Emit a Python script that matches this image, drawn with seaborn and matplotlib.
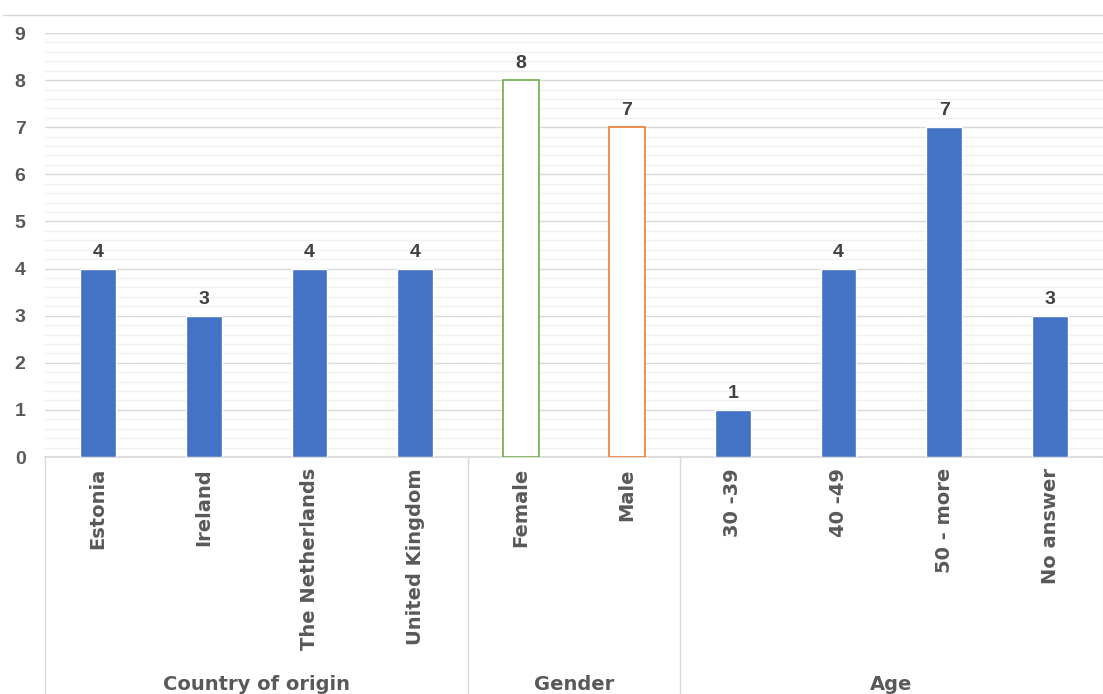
import numpy as np
import pandas as pd
import matplotlib
matplotlib.use("Agg")
import matplotlib.pyplot as plt
from matplotlib.ticker import MultipleLocator
from matplotlib.lines import Line2D
import seaborn as sns

# Data
categories = ["Estonia", "Ireland", "The Netherlands", "United Kingdom",
              "Female", "Male",
              "30 -39", "40 -49", "50 - more", "No answer"]
counts = [4, 3, 4, 4, 8, 7, 1, 4, 7, 3]
groups = ["Country of origin"] * 4 + ["Gender"] * 2 + ["Age"] * 4
group_names = ["Country of origin", "Gender", "Age"]

blue = "#4472C4"
txt = "#595959"
wide = ["DejaVu Sans"]  # wider face, closer to the spaced-out labels

sns.set_theme(style="white")
plt.rcParams["font.family"] = ["Liberation Sans", "DejaVu Sans"]

df = pd.DataFrame({"category": categories, "count": counts, "group": groups})

fig = plt.figure(figsize=(11.03, 6.94), dpi=100)
ax = fig.add_axes([45 / 1103, 1 - 457 / 694, 1 - 45 / 1103, 424 / 694])

sns.barplot(data=df, x="category", y="count", order=categories, color=blue,
            width=0.34, saturation=1, ax=ax, zorder=3)

# Gender bars are drawn as outlines only
outline = {"Female": "#70AD47", "Male": "#ED7D31"}
for patch, cat in zip(ax.patches, categories):
    if cat in outline:
        patch.set_facecolor("white")
        patch.set_edgecolor(outline[cat])
        patch.set_linewidth(1.2)

# value labels
for i, v in enumerate(counts):
    ax.text(i, v + 0.17, str(v), ha="center", va="bottom", fontsize=14,
            fontweight="bold", color="#404040")

ax.set_ylim(0, 9)
ax.set_xlim(-0.5, 9.5)
ax.yaxis.set_major_locator(MultipleLocator(1))
ax.yaxis.set_minor_locator(MultipleLocator(0.2))
ax.grid(which="major", axis="y", color="#D9D9D9", linewidth=1.0, zorder=0)
ax.grid(which="minor", axis="y", color="#F0F0F0", linewidth=1.0, zorder=0)
ax.set_axisbelow(True)
for side in ["left", "right", "top"]:
    ax.spines[side].set_visible(False)
ax.spines["bottom"].set_color("#D9D9D9")
ax.tick_params(axis="y", which="both", length=0, pad=14, labelsize=14,
               labelcolor=txt)
for lab in ax.get_yticklabels():
    lab.set_fontweight("bold")
ax.tick_params(axis="x", length=0, pad=8, labelsize=14, labelcolor=txt)
ax.set_xticks(range(len(categories)))
ax.set_xticklabels(categories, rotation=90, fontweight="bold", va="top",
                   family=wide)
ax.set_xlabel("")
ax.set_ylabel("")

# group separators and group labels below the axis
trans = ax.get_xaxis_transform()
bottom = -237 / 424
for xb in [-0.5, 3.5, 5.5, 9.5]:
    ax.plot([xb, xb], [0, bottom], color="#D9D9D9", linewidth=1.0,
            transform=trans, clip_on=False)
for name in group_names:
    idx = [i for i, g in enumerate(groups) if g == name]
    ax.text(np.mean(idx), -227 / 424, name, transform=trans, ha="center",
            va="center", fontsize=14, fontweight="bold", color=txt,
            family=wide)

# chart border line at the top
fig.add_artist(Line2D([3 / 1103, 1], [1 - 15 / 694, 1 - 15 / 694],
                      color="#D9D9D9", linewidth=1.0))

fig.savefig("out.png", dpi=100)
